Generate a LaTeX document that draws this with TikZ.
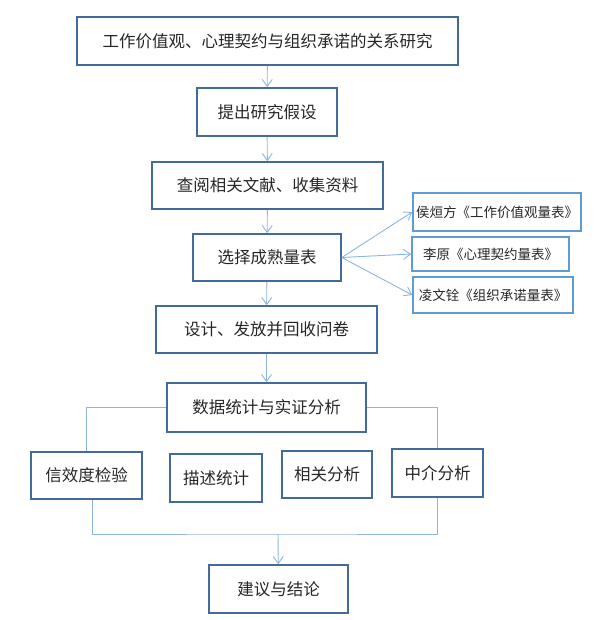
\documentclass[tikz,border=0pt]{standalone}
\usepackage{fontspec}
\setmainfont{Noto Sans CJK SC}
\usepackage{tikz}
\usetikzlibrary{arrows.meta}
\definecolor{boxblue}{RGB}{68,106,154}
\definecolor{sideblue}{RGB}{96,155,212}
\definecolor{lineblue}{RGB}{140,180,226}
\definecolor{textgray}{RGB}{38,38,38}

\begin{document}
\begin{tikzpicture}[x=1pt, y=-1pt,
    stepbox/.style={draw=boxblue, line width=1.6pt, text=textgray, inner sep=0pt,
        font=\fontsize{16.5}{20}\selectfont},
    sidebox/.style={draw=sideblue, line width=1.6pt, text=textgray, inner sep=0pt,
        font=\fontsize{13.5}{16}\selectfont},
    link/.style={draw=lineblue, line width=0.9pt},
    arrow/.style={link, -{Straight Barb[length=7pt, width=10pt]}}]
    \useasboundingbox (0,0) rectangle (594,620);
    % Main steps from top to bottom
    \node[stepbox, minimum width=381, minimum height=48] (title) at (267.5,41) {工作价值观、心理契约与组织承诺的关系研究};
    \node[stepbox, minimum width=140, minimum height=48] (hypo) at (267,112) {提出研究假设};
    \node[stepbox, minimum width=231, minimum height=47] (review) at (267.5,185.5) {查阅相关文献、收集资料};
    \node[stepbox, minimum width=148, minimum height=47] (scale) at (267,257.5) {选择成熟量表};
    \node[stepbox, minimum width=221, minimum height=47] (survey) at (266.5,329.5) {设计、发放并回收问卷};
    \node[stepbox, minimum width=199, minimum height=49] (stats) at (266.5,407.5) {数据统计与实证分析};
    \node[stepbox, minimum width=139, minimum height=48] (concl) at (278.5,589) {建议与结论};
    % The three scales
    \node[sidebox, minimum width=168, minimum height=38] (scaleA) at (497,212) {侯烜方《工作价值观量表》};
    \node[sidebox, minimum width=157, minimum height=34] (scaleB) at (490.5,254) {李原《心理契约量表》};
    \node[sidebox, minimum width=160, minimum height=36] (scaleC) at (493,295) {凌文铨《组织承诺量表》};
    % The four analyses
    \node[stepbox, minimum width=111, minimum height=47] (rel) at (86.5,475.5) {信效度检验};
    \node[stepbox, minimum width=92, minimum height=48] (desc) at (216,478) {描述统计};
    \node[stepbox, minimum width=90, minimum height=47] (corr) at (327,474.5) {相关分析};
    \node[stepbox, minimum width=91, minimum height=48] (med) at (437.5,473) {中介分析};
    % Arrows between the steps
    \draw[arrow] (title) -- (hypo);
    \draw[arrow] (hypo) -- (review);
    \draw[arrow] (review) -- (scale);
    \draw[arrow] (scale) -- (survey);
    \draw[arrow] (survey) -- (stats);
    \foreach \s in {scaleA, scaleB, scaleC} {
        \draw[arrow] (scale.east) -- (\s.west);
    }
    % Branch out and join again
    \draw[link] (stats.west) -| (rel.north);
    \draw[link] (stats.east) -| (med.north);
    \coordinate (merge) at (278,534);
    \draw[link] ([xshift=5.5]rel.south) |- (merge) -| (med.south);
    \draw[arrow] (merge) -- (concl);
\end{tikzpicture}
\end{document}
